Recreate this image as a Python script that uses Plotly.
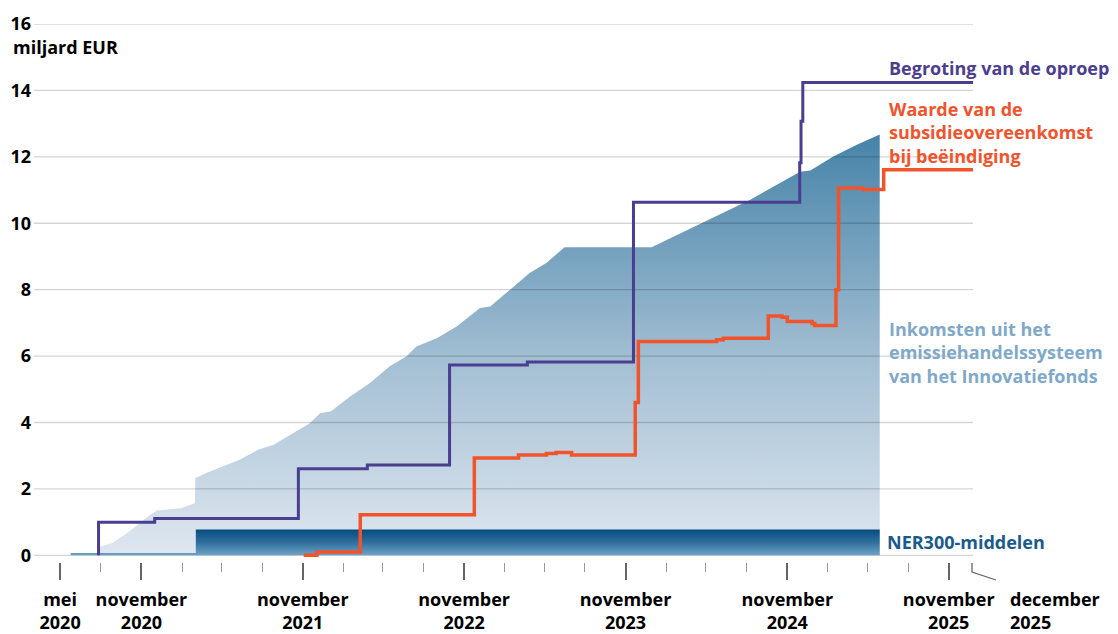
import plotly.graph_objects as go
import pandas as pd

# ---------------- data (miljard EUR) ----------------
# Inkomsten uit het emissiehandelssysteem van het Innovatiefonds (cumulatief)
ets_dates = ["2020-07-26", "2020-07-31", "2020-08-27", "2020-09-30", "2020-11-21",
             "2020-12-06", "2021-01-29", "2021-03-02", "2021-03-03", "2021-03-28",
             "2021-06-11", "2021-07-23", "2021-08-27", "2021-10-10", "2021-11-17",
             "2021-12-10", "2022-01-03", "2022-02-16", "2022-04-02", "2022-05-16",
             "2022-06-23", "2022-07-16", "2022-08-31", "2022-10-15", "2022-12-07",
             "2022-12-30", "2023-02-13", "2023-03-29", "2023-05-06", "2023-06-16",
             "2023-12-30", "2024-02-10", "2024-04-17", "2024-08-09", "2024-11-30",
             "2024-12-23", "2025-02-13", "2025-04-06", "2025-05-29"]
ets_values = [0.05, 0.27, 0.37, 0.67, 1.22,
              1.35, 1.42, 1.57, 2.33, 2.48,
              2.88, 3.18, 3.33, 3.68, 3.98,
              4.28, 4.33, 4.78, 5.19, 5.69,
              5.99, 6.29, 6.54, 6.89, 7.45,
              7.49, 8.00, 8.50, 8.80, 9.28,
              9.28, 9.55, 10.00, 10.71, 11.55,
              11.59, 12.01, 12.36, 12.67]

# NER300-middelen
ner_dates = ["2020-05-25", "2021-03-04", "2025-05-29"]
ner_values = [0.07, 0.78, 0.78]

# Begroting van de oproep
budget_dates = ["2020-07-27", "2020-07-27", "2020-12-01", "2021-10-22", "2022-03-27",
                "2022-09-29", "2023-03-24", "2023-11-19", "2024-11-29", "2024-12-02",
                "2024-12-06", "2025-12-26"]
budget_values = [0.0, 1.00, 1.11, 2.61, 2.72,
                 5.73, 5.82, 10.63, 11.82, 13.07,
                 14.24, 14.24]

# Waarde van de subsidieovereenkomst bij beëindiging
grant_dates = ["2021-11-03", "2021-12-03", "2022-03-11", "2022-11-24", "2023-03-04",
               "2023-05-06", "2023-05-28", "2023-07-02", "2023-11-23", "2023-11-30",
               "2024-05-25", "2024-06-09", "2024-09-19", "2024-10-20", "2024-11-01",
               "2024-12-27", "2025-01-02", "2025-02-19", "2025-02-25", "2025-04-21",
               "2025-06-07", "2025-12-26"]
grant_values = [0.00, 0.10, 1.22, 2.93, 3.02,
                3.07, 3.10, 3.02, 4.60, 6.44,
                6.49, 6.54, 7.21, 7.17, 7.04,
                6.98, 6.92, 8.00, 11.06, 11.02,
                11.61, 11.61]

# axis ticks
y_ticks = [0, 2, 4, 6, 8, 10, 12, 14, 16]
x_major = ["2020-05-01", "2020-11-01", "2021-11-01", "2022-11-01",
           "2023-11-01", "2024-11-01", "2025-11-01"]
x_major_text = ["mei<br>2020", "november<br>2020", "november<br>2021", "november<br>2022",
                "november<br>2023", "november<br>2024", "november<br>2025"]
x_last_text = "december<br>2025"
x_range = ["2020-03-03", "2025-12-26"]
y_range = [-0.2, 16]

# ---------------- styling ----------------
PURPLE = "#4b3d8f"
ORANGE = "#f2532b"
NER_COL = "#1b5a8c"
ETS_TXT = "#7fa9c9"
FONT = "Open Sans"

minor_vals = [d.strftime("%Y-%m-%d") for d in pd.date_range("2020-05-01", "2025-11-01", freq="3MS")
              if d.strftime("%Y-%m-%d") not in x_major]

fig = go.Figure()

fig.add_trace(go.Scatter(
    x=ets_dates, y=ets_values, mode="lines", line=dict(width=0),
    fill="tozeroy",
    fillgradient=dict(type="vertical", start=0, stop=max(ets_values),
                      colorscale=[[0, "#dfe7f0"], [0.45, "#a5c0d4"], [1, "#4683a8"]]),
    hoverinfo="skip"))

# gridlines above the area
gx, gy = [], []
for v in y_ticks:
    gx += [x_range[0], x_range[1], None]
    gy += [v, v, None]
fig.add_trace(go.Scatter(x=gx, y=gy, mode="lines",
                         line=dict(color="rgba(0,0,0,0.17)", width=1.3),
                         hoverinfo="skip"))

fig.add_trace(go.Scatter(
    x=ner_dates, y=ner_values, mode="lines", line=dict(width=0, shape="hv"),
    fill="tozeroy",
    fillgradient=dict(type="vertical", start=0, stop=max(ner_values),
                      colorscale=[[0, "#6ea3c6"], [0.5, "#2f6f9e"], [1, "#064c7f"]]),
    hoverinfo="skip"))

fig.add_trace(go.Scatter(x=budget_dates, y=budget_values, mode="lines",
                         line=dict(color=PURPLE, width=3, shape="hv"), hoverinfo="skip"))
fig.add_trace(go.Scatter(x=grant_dates, y=grant_values, mode="lines",
                         line=dict(color=ORANGE, width=3.5, shape="hv"), hoverinfo="skip"))

L, R, T, B = 34, 145, 24, 72
W, H = 1118, 634
PW, PH = W - L - R, H - T - B


def px(xp):
    return (xp - L) / PW


def py(yp):
    return (H - B - yp) / PH


fig.update_layout(
    width=W, height=H, margin=dict(l=L, r=R, t=T, b=B, autoexpand=False),
    plot_bgcolor="white", paper_bgcolor="white", showlegend=False,
    font=dict(family=FONT, size=18, color="black", weight="bold"),
    xaxis=dict(type="date", range=x_range, showgrid=False, zeroline=False, showline=False,
               automargin=False,
               tickmode="array", tickvals=x_major, ticktext=x_major_text,
               ticks="outside", ticklen=17, tickwidth=1.5, tickcolor="#666",
               minor=dict(tickmode="array", tickvals=minor_vals, ticks="outside",
                          ticklen=9, tickwidth=1, tickcolor="#999"),
               tickangle=0, ticklabelstandoff=4),
    yaxis=dict(range=y_range, tickvals=y_ticks, showgrid=False, zeroline=False,
               showline=False, ticks="", ticklabelstandoff=2, automargin=False),
)

# December 2025 bent tick
fig.add_shape(type="path", xref="paper", yref="paper",
              path=f"M {px(972)} {py(563)} L {px(972)} {py(572)} L {px(996)} {py(580)}",
              line=dict(color="#666", width=1.3))

ann = [
    ("miljard EUR", 11, 47, "black", "left"),
    ("Begroting van de oproep", 887, 68, PURPLE, "left"),
    ("Waarde van de<br>subsidieovereenkomst<br>bij beëindiging", 887, 132, ORANGE, "left"),
    ("Inkomsten uit het<br>emissiehandelssysteem<br>van het Innovatiefonds", 887, 352, ETS_TXT, "left"),
    ("NER300-middelen", 885, 542, NER_COL, "left"),
    (x_last_text, 1008, 610, "black", "left"),
]
for text, xp, yp, col, xa in ann:
    fig.add_annotation(text=text, xref="paper", yref="paper", x=px(xp), y=py(yp),
                       xanchor=xa, yanchor="middle", showarrow=False, align="left",
                       font=dict(family=FONT, size=18, color=col, weight="bold"))

fig.write_html("out.html", config={"displayModeBar": False},
               post_script="document.body.style.margin='0';")
